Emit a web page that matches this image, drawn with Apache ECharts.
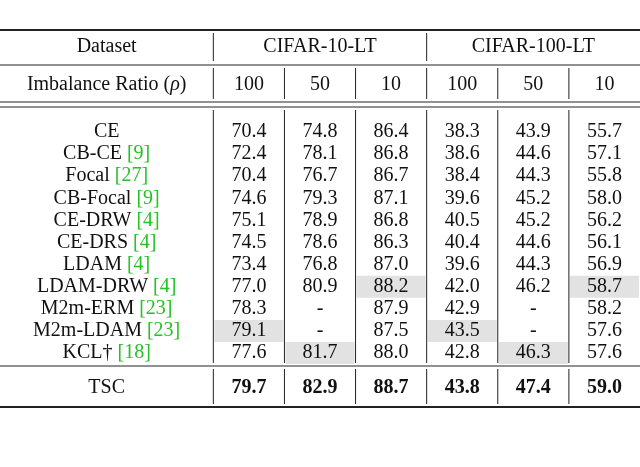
<!DOCTYPE html>
<html><head><meta charset="utf-8">
<script src="https://cdn.jsdelivr.net/npm/echarts@6/dist/echarts.min.js"></script>
<style>html,body{margin:0;padding:0;background:#fff}#main{width:640px;height:467px}</style>
</head><body><div id="main"></div>
<script>
var methods = ['CE','CB-CE','Focal','CB-Focal','CE-DRW','CE-DRS','LDAM','LDAM-DRW','M2m-ERM','M2m-LDAM','KCL†','TSC'];
var cites   = ['','9','27','9','4','4','4','4','23','23','18',''];
var cifar10_100 = ['70.4','72.4','70.4','74.6','75.1','74.5','73.4','77.0','78.3','79.1','77.6','79.7'];
var cifar10_50  = ['74.8','78.1','76.7','79.3','78.9','78.6','76.8','80.9','-','-','81.7','82.9'];
var cifar10_10  = ['86.4','86.8','86.7','87.1','86.8','86.3','87.0','88.2','87.9','87.5','88.0','88.7'];
var cifar100_100 = ['38.3','38.6','38.4','39.6','40.5','40.4','39.6','42.0','42.9','43.5','42.8','43.8'];
var cifar100_50  = ['43.9','44.6','44.3','45.2','45.2','44.6','44.3','46.2','-','-','46.3','47.4'];
var cifar100_10  = ['55.7','57.1','55.8','58.0','56.2','56.1','56.9','58.7','58.2','57.6','57.6','59.0'];
var ratios = ['100','50','10','100','50','10'];
// highlighted cells: [row, valueColumn]
var highlights = [[7,2],[7,5],[9,0],[9,3],[10,1],[10,4]];

var chart = echarts.init(document.getElementById('main'));
var cols = [cifar10_100, cifar10_50, cifar10_10, cifar100_100, cifar100_50, cifar100_10];
var rowY = function(i){ return i == 11 ? 388 : 132 + 22.1 * i; };
var FONT = 'Liberation Serif';

var cells = [];
// header
cells.push([1.5, 47, 'Dataset', 0, 0]);
cells.push([4.5, 47, 'CIFAR-10-LT', 0, 0]);
cells.push([7.5, 47, 'CIFAR-100-LT', 0, 0]);
cells.push([1.5, 85, 'Imbalance Ratio ({i|ρ})', 0, 0]);
for (var c = 0; c < ratios.length; c++) cells.push([3.5 + c, 85, ratios[c], 0, 0]);
for (var r = 0; r < methods.length; r++) {
    var name = cites[r] ? methods[r] + ' {c|[' + cites[r] + ']}' : methods[r];
    cells.push([1.5, rowY(r), name, 0, 0]);
    for (var c = 0; c < cols.length; c++) {
        var hl = highlights.some(function(h){ return h[0] == r && h[1] == c; }) ? 1 : 0;
        cells.push([3.5 + c, rowY(r), cols[c][r], r == 11 ? 1 : 0, hl]);
    }
}

// rules: [x1, x2, y1, y2, width]
var rules = [[0,9,30,30,2],[0,9,65,65,1],[0,9,102,102,1],[0,9,107,107,1],[0,9,366,366,1],[0,9,407,407,2],
    [3,3,33,61,1],[6,6,33,61,1]];
for (var x = 3; x <= 8; x++) {
    rules.push([x,x,68,99,1]);
    rules.push([x,x,110,363,1]);
    rules.push([x,x,369,404,1]);
}

chart.setOption({
    animation:false,
    grid:{left:0,right:0,top:0,bottom:0},
    xAxis:{type:'value',min:0,max:9,show:false},
    yAxis:{type:'value',min:0,max:467,inverse:true,show:false},
    series:[{
        type:'custom',
        data:cells,
        renderItem:function(params, api){
            var p = api.coord([api.value(0), api.value(1)]);
            var w = api.size([1, 0])[0];
            var children = [];
            if (api.value(4)) {
                children.push({type:'rect',shape:{x:p[0]-w/2+1,y:p[1]-11,width:w-2,height:22},style:{fill:'#e2e2e2'}});
            }
            children.push({type:'text',x:p[0],y:p[1],style:{
                text:cells[params.dataIndex][2],
                align:'center',verticalAlign:'middle',
                font:(api.value(3) ? 'bold ' : '') + '20px "' + FONT + '"',
                fill:'#111',
                rich:{c:{fill:'#22c322',fontSize:20,fontFamily:FONT},
                      i:{fontSize:20,fontFamily:FONT,fontStyle:'italic',fill:'#111'}}
            }});
            return {type:'group',children:children};
        }
    },{
        type:'custom',
        data:rules,
        renderItem:function(params, api){
            var a = api.coord([api.value(0), api.value(2)]);
            var b = api.coord([api.value(1), api.value(3)]);
            return {type:'line',shape:{x1:a[0],y1:a[1],x2:b[0],y2:b[1]},style:{stroke:'#222',lineWidth:api.value(4)}};
        }
    }]
});
</script></body></html>
